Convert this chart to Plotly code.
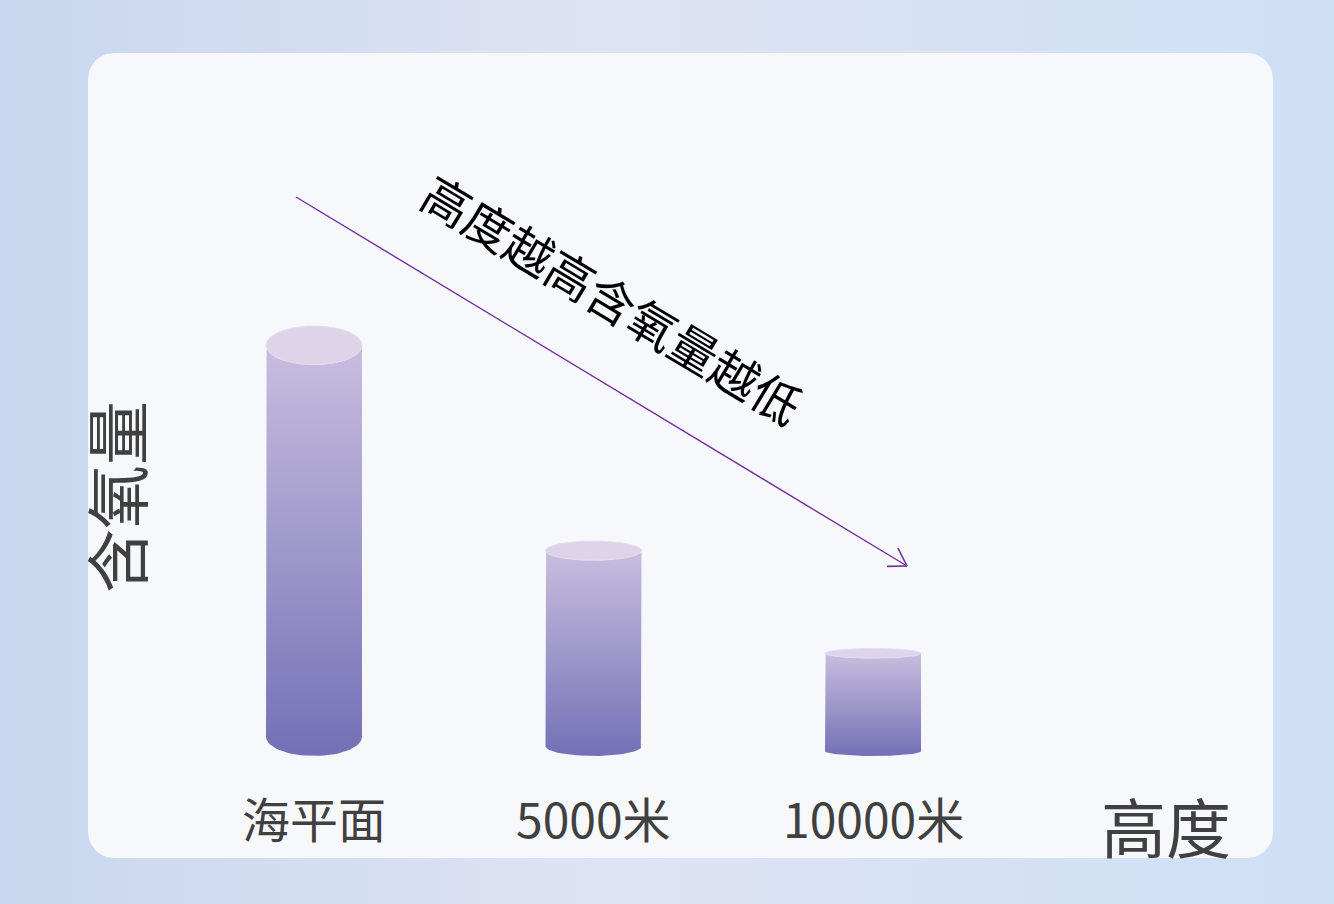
import numpy as np
import plotly.graph_objects as go

# ---------------- data ----------------
categories = ["海平面", "5000米", "10000米"]
oxygen = [100, 50, 25]          # relative oxygen content
x_axis_title = "高度"
y_axis_title = "含氧量"
trend_text = "高度越高含氧量越低"

# ---------------- geometry helpers ----------------
W, H = 1334, 904
X0_PX, DX_PX = 314.0, 279.5      # pixel of x=0, pixels per category
Y0_PX, DY_PX = 756.0, 4.3        # pixel of y=0, pixels per unit
XR = [-X0_PX / DX_PX, (W - X0_PX) / DX_PX]
YR = [-(H - Y0_PX) / DY_PX, Y0_PX / DY_PX]


def px2x(px):
    return (px - X0_PX) / DX_PX


def py2y(py):
    return (Y0_PX - py) / DY_PX


FONT = "Noto Sans CJK SC, Noto Sans, sans-serif"
fig = go.Figure()

# background gradient
fig.add_trace(go.Scatter(
    x=[XR[0], XR[1], XR[1], XR[0], XR[0]],
    y=[YR[0], YR[0], YR[1], YR[1], YR[0]],
    mode="lines", line=dict(width=0), fill="toself",
    fillgradient=dict(type="horizontal",
                      colorscale=[[0, "#c8d7ef"], [0.45, "#dde3f3"], [1, "#cee0f5"]]),
    hoverinfo="skip", showlegend=False))

# rounded card
def rounded_rect(x0, y0, x1, y1, r, n=12):
    pts = []
    corners = [(x1 - r, y0 + r, -np.pi / 2, 0),
               (x1 - r, y1 - r, 0, np.pi / 2),
               (x0 + r, y1 - r, np.pi / 2, np.pi),
               (x0 + r, y0 + r, np.pi, 1.5 * np.pi)]
    for cx, cy, a0, a1 in corners:
        for t in np.linspace(a0, a1, n):
            pts.append((cx + r * np.cos(t), cy + r * np.sin(t)))
    pts.append(pts[0])
    return [px2x(p[0]) for p in pts], [py2y(p[1]) for p in pts]

cx_, cy_ = rounded_rect(88, 53, 1273, 858, 26)
fig.add_trace(go.Scatter(x=cx_, y=cy_, mode="lines", line=dict(width=0),
                         fill="toself", fillcolor="#f7f8fc",
                         hoverinfo="skip", showlegend=False))

# cylinders
half_w = 48.0 / DX_PX
t = np.linspace(0, np.pi, 40)
for i, v in enumerate(oxygen):
    ry = 0.045 * v
    yb, yt = ry, v - ry
    xs = [i - half_w, i - half_w]
    ys = [yb, yt]
    xs += list(i + half_w * np.cos(t[::-1]))
    ys += list(yt + ry * np.sin(t[::-1]))
    xs += [i + half_w, i + half_w]
    ys += [yt, yb]
    xs += list(i + half_w * np.cos(t))
    ys += list(yb - ry * np.sin(t))
    xs.append(xs[0]); ys.append(ys[0])
    fig.add_trace(go.Scatter(
        x=xs, y=ys, mode="lines", line=dict(width=0), fill="toself",
        fillgradient=dict(type="vertical", start=0, stop=v,
                          colorscale=[[0, "#7470b6"], [0.5, "#a09acb"], [1, "#cdc0e1"]]),
        hoverinfo="skip", showlegend=False))
    tt = np.linspace(0, 2 * np.pi, 80)
    fig.add_trace(go.Scatter(
        x=i + half_w * np.cos(tt), y=yt + ry * np.sin(tt),
        mode="lines", line=dict(width=1, color="#e6dff0"), fill="toself",
        fillcolor="#ddd4ea", hoverinfo="skip", showlegend=False))

# arrow
ax0, ay0, ax1, ay1 = 296, 197, 907, 566
shapes = [dict(type="line", xref="x", yref="y",
               x0=px2x(ax0), y0=py2y(ay0), x1=px2x(ax1), y1=py2y(ay1),
               line=dict(color="#7030a0", width=1.4))]
ang = np.arctan2(ay0 - ay1, ax0 - ax1)
for d in (-0.56, 0.56):
    L = 20
    shapes.append(dict(type="line", xref="x", yref="y",
                       x0=px2x(ax1), y0=py2y(ay1),
                       x1=px2x(ax1 + L * np.cos(ang + d)), y1=py2y(ay1 + L * np.sin(ang + d)),
                       line=dict(color="#7030a0", width=1.6)))

annotations = []
for i, c in enumerate(categories):
    annotations.append(dict(x=i, y=py2y(817), xref="x", yref="y", text=c,
                            showarrow=False, xanchor="center", yanchor="middle",
                            font=dict(family=FONT, size=48, color="#404040")))
annotations.append(dict(x=px2x(1166), y=py2y(825), xref="x", yref="y", text=x_axis_title,
                        showarrow=False, xanchor="center", yanchor="middle",
                        font=dict(family=FONT, size=65, color="#404040")))
annotations.append(dict(x=px2x(114), y=py2y(497), xref="x", yref="y", text=y_axis_title,
                        showarrow=False, xanchor="center", yanchor="middle", textangle=-90,
                        font=dict(family=FONT, size=64, color="#404040")))
annotations.append(dict(x=px2x(613), y=py2y(298), xref="x", yref="y", text=trend_text,
                        showarrow=False, xanchor="center", yanchor="middle", textangle=31,
                        font=dict(family=FONT, size=48, color="#000000")))

fig.update_layout(
    width=W, height=H, margin=dict(l=0, r=0, t=0, b=0),
    paper_bgcolor="#dde3f3", plot_bgcolor="#dde3f3",
    xaxis=dict(range=XR, visible=False, fixedrange=True),
    yaxis=dict(range=YR, visible=False, fixedrange=True),
    shapes=shapes, annotations=annotations, showlegend=False,
)

fig.write_html("out.html", config={"displayModeBar": False})
